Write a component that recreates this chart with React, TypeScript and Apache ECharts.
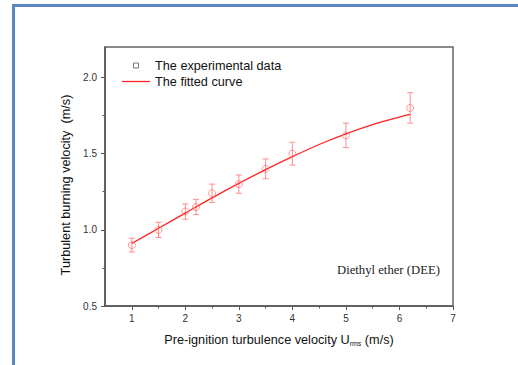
import React, { useEffect, useRef } from 'react';
import * as echarts from 'echarts';

const pointX = [1, 1.5, 2, 2.2, 2.5, 3, 3.5, 4, 5, 6.2];
const pointY = [0.9, 1.0, 1.12, 1.15, 1.24, 1.3, 1.4, 1.5, 1.62, 1.8];
const errorY = [0.045, 0.05, 0.05, 0.05, 0.06, 0.06, 0.065, 0.075, 0.08, 0.1];
const fitX = [1, 1.5, 2, 2.5, 3, 3.5, 4, 4.5, 5, 5.5, 6, 6.2];
const fitY = [0.91, 1.01, 1.11, 1.21, 1.305, 1.395, 1.48, 1.56, 1.63, 1.69, 1.74, 1.758];
const xMajorTicks = [1, 2, 3, 4, 5, 6, 7];
const xMinorTicks = [1.5, 2.5, 3.5, 4.5, 5.5, 6.5];
const yMajorTicks = [0.5, 1.0, 1.5, 2.0];

const FONT = 'Liberation Sans, Arial, sans-serif';
const FS = 12.7;

export default function App() {
  const ref = useRef<HTMLDivElement>(null);
  useEffect(() => {
    if (!ref.current) return;
    const chart = echarts.init(ref.current, undefined, { renderer: 'svg' });
    const option: any = {
      animation: false,
      backgroundColor: '#ffffff',
      grid: {
        left: 105,
        top: 47,
        right: 65,
        bottom: 59,
        show: true,
        borderColor: '#666',
        borderWidth: 1.5,
        backgroundColor: 'transparent',
      },
      legend: {
        orient: 'vertical',
        left: 117,
        top: 54,
        itemWidth: 28,
        itemHeight: 5,
        itemGap: 3,
        textStyle: { fontSize: FS, color: '#111', fontFamily: FONT },
        data: [
          {
            name: 'The experimental data',
            icon: 'path://M0,0L10,0L10,10L0,10Z',
            itemStyle: { color: 'rgba(0,0,0,0)', borderColor: '#555', borderWidth: 1 },
          },
          {
            name: 'The fitted curve',
            icon: 'path://M0,0L28,0L28,1.3L0,1.3Z',
            itemStyle: { color: '#ff2424', borderWidth: 0 },
          },
        ],
      },
      xAxis: [
        {
          type: 'value',
          min: 0.5,
          max: 7,
          interval: 0.5,
          position: 'bottom',
          axisLine: { show: true, lineStyle: { color: '#555', width: 1.5 } },
          axisTick: { show: true, customValues: xMajorTicks, length: 4, lineStyle: { color: '#555' } },
          axisLabel: {
            customValues: xMajorTicks,
            fontSize: 10,
            color: '#333',
            margin: 7,
            fontFamily: FONT,
          },
          splitLine: { show: false },
          name: 'Pre-ignition turbulence velocity U{sub|rms} (m/s)',
          nameLocation: 'middle',
          nameGap: 26,
          nameTextStyle: {
            fontSize: FS,
            color: '#111',
            fontFamily: FONT,
            rich: {
              sub: { fontSize: 7, padding: [8, 0, 0, 0], color: '#111', fontFamily: FONT },
            },
          },
        },
        {
          type: 'value',
          min: 0.5,
          max: 7,
          interval: 0.5,
          position: 'bottom',
          axisLine: { show: false },
          axisTick: { show: true, customValues: xMinorTicks, length: 2.5, lineStyle: { color: '#555' } },
          axisLabel: { show: false },
          splitLine: { show: false },
        },
      ],
      yAxis: [
        {
          type: 'value',
          min: 0.5,
          max: 2.2,
          interval: 0.5,
          axisLine: { show: true, lineStyle: { color: '#555', width: 1.5 } },
          axisTick: { show: true, customValues: yMajorTicks, length: 4, lineStyle: { color: '#555' } },
          minorTick: { show: true, splitNumber: 2, length: 2.5, lineStyle: { color: '#555' } },
          axisLabel: {
            customValues: yMajorTicks,
            formatter: (v: number) => v.toFixed(1),
            fontSize: 10,
            color: '#333',
            margin: 8,
            fontFamily: FONT,
          },
          splitLine: { show: false },
          name: 'Turbulent burning velocity  (m/s)',
          nameLocation: 'middle',
          nameGap: 28,
          nameTextStyle: { fontSize: FS, color: '#111', fontFamily: FONT, padding: [0, 17, 0, 0] },
        },
      ],
      series: [
        {
          type: 'custom',
          xAxisIndex: 0,
          yAxisIndex: 0,
          silent: true,
          z: 2,
          encode: { x: 0, y: [1, 2] },
          data: pointX.map((x, i) => [x, pointY[i] - errorY[i], pointY[i] + errorY[i]]),
          renderItem: (params: any, api: any) => {
            const lo = api.coord([api.value(0), api.value(1)]);
            const hi = api.coord([api.value(0), api.value(2)]);
            const w = 3;
            const style = { stroke: '#ff8c8c', lineWidth: 1 };
            return {
              type: 'group',
              children: [
                { type: 'line', shape: { x1: hi[0], y1: hi[1], x2: lo[0], y2: lo[1] }, style },
                { type: 'line', shape: { x1: hi[0] - w, y1: hi[1], x2: hi[0] + w, y2: hi[1] }, style },
                { type: 'line', shape: { x1: lo[0] - w, y1: lo[1], x2: lo[0] + w, y2: lo[1] }, style },
              ],
            };
          },
        },
        {
          name: 'The fitted curve',
          type: 'line',
          xAxisIndex: 0,
          yAxisIndex: 0,
          smooth: 0.3,
          showSymbol: false,
          symbol: 'none',
          z: 3,
          lineStyle: { color: '#ff2424', width: 1.3 },
          itemStyle: { color: '#ff2424' },
          data: fitX.map((x, i) => [x, fitY[i]]),
        },
        {
          name: 'The experimental data',
          type: 'scatter',
          xAxisIndex: 0,
          yAxisIndex: 0,
          symbol: 'circle',
          symbolSize: 7,
          z: 4,
          itemStyle: { color: 'rgba(255,255,255,0)', borderColor: '#ff7a7a', borderWidth: 1 },
          data: pointX.map((x, i) => [x, pointY[i]]),
        },
      ],
      graphic: [
        { type: 'rect', shape: { x: 12, y: 4, width: 506, height: 3 }, style: { fill: '#5b86c4' }, silent: true },
        { type: 'rect', shape: { x: 12, y: 4, width: 3, height: 361 }, style: { fill: '#5b86c4' }, silent: true },
        {
          type: 'text',
          x: 337,
          y: 270,
          style: {
            text: 'Diethyl ether (DEE)',
            font: '12.7px "Liberation Serif", "Times New Roman", serif',
            fill: '#222',
            verticalAlign: 'middle',
            align: 'left',
          },
        },
      ],
    };
    chart.setOption(option);
    return () => chart.dispose();
  }, []);
  return (
    <div
      ref={ref}
      style={{ position: 'fixed', left: 0, top: 0, width: 518, height: 365, background: '#fff' }}
    />
  );
}
